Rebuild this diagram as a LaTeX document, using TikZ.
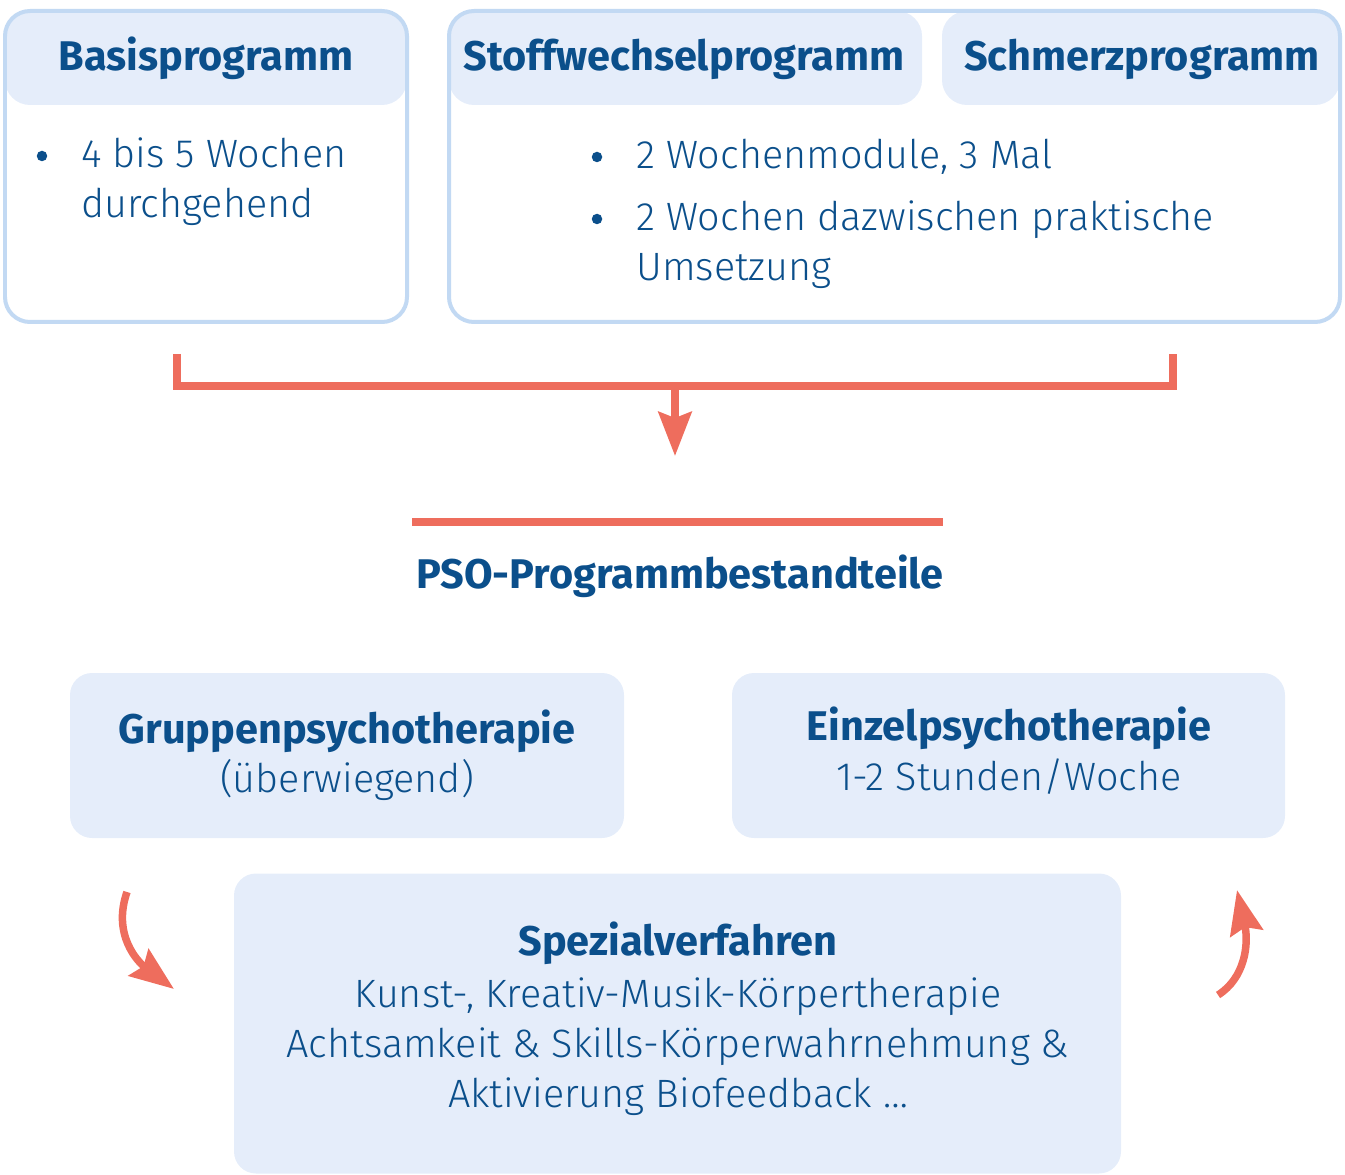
\documentclass[tikz,border=0pt]{standalone}
\usepackage{fontspec}
\setmainfont{Fira Sans}[UprightFont=* Light, BoldFont=* Bold]
\usetikzlibrary{arrows.meta,positioning}

\definecolor{psoBlue}{HTML}{0B4F8B}
\definecolor{psoFill}{HTML}{E5EDFA}
\definecolor{psoFrame}{HTML}{C2D9F3}
\definecolor{psoRed}{HTML}{EE6D5D}

\newcommand{\bodyfont}{\fontsize{22.5}{28}\selectfont}
\newcommand{\headfont}{\fontsize{23.6}{28}\selectfont\bfseries}
\def\px{0.02cm}

\begin{document}
\begin{tikzpicture}[x=0.02cm, y=-0.02cm, text=psoBlue,
    header/.style={fill=psoFill, rounded corners=0.5cm, inner sep=0pt},
    outerbox/.style={draw=psoFrame, line width=0.08cm, rounded corners=0.5cm, inner sep=0pt},
    panel/.style={fill=psoFill, rounded corners=0.44cm, inner sep=0pt},
    headtext/.style={font=\headfont, inner sep=0pt, anchor=base},
    bodytext/.style={font=\bodyfont, inner sep=0pt, anchor=base west},
    linetext/.style={font=\bodyfont, inner sep=0pt, anchor=base},
    bulletdot/.style={circle, fill=psoBlue, minimum size=0.21cm, inner sep=0pt},
    redline/.style={draw=psoRed, line width=0.16cm},
    redarrow/.style={draw=psoRed, line width=0.15cm, -{Stealth[length=0.88cm, width=0.66cm, inset=0.12cm]}}]

    \useasboundingbox (0,0) rectangle (1345,1175);

    % Header fields of the programmes
    \node[header, minimum width=402*\px, minimum height=94*\px] (basisHead) at (206,58) {};
    \node[header, minimum width=473*\px, minimum height=94*\px] (stoffHead) at (685.5,58) {};
    \node[header, minimum width=398*\px, minimum height=94*\px] (schmerzHead) at (1141,58) {};

    % Frames round the programmes
    \node[outerbox, minimum width=402*\px, minimum height=311*\px] (basis) at (206,166.5) {};
    \node[outerbox, minimum width=891*\px, minimum height=311*\px] (kombi) at (894.5,166.5) {};

    % Programme titles
    \node[headtext] (basisTitle) at (206,71) {Basisprogramm};
    \node[headtext] (stoffTitle) at (684,71) {Stoffwechselprogramm};
    \node[headtext] (schmerzTitle) at (1142,71) {Schmerzprogramm};

    % Bullet points
    \foreach \pos [count=\i] in {(42,156), (597,157), (597,219)} {
      \node[bulletdot] (dot\i) at \pos {};
    }
    \node[bodytext] (basisA) at (81,168) {4 bis 5 Wochen};
    \node[bodytext] (basisB) at (81,218) {durchgehend};
    \node[bodytext] (kombiA) at (636,169) {2 Wochenmodule, 3 Mal};
    \node[bodytext] (kombiB) at (636,231) {2 Wochen dazwischen praktische};
    \node[bodytext] (kombiC) at (636,281) {Umsetzung};

    % Bracket joining the programmes
    \coordinate (basisFoot) at (177,354);
    \coordinate (kombiFoot) at (1173,354);
    \coordinate (merge) at (675,386);
    \coordinate (mergeEnd) at (675,456);
    \draw[redline] (basisFoot) |- (merge) -| (kombiFoot);
    \draw[redarrow] (merge) -- (mergeEnd);

    % Rule and title of the components
    \coordinate (ruleL) at (412,522);
    \coordinate (ruleR) at (943,522);
    \draw[redline] (ruleL) -- (ruleR);
    \node[headtext] (pso) at (680,588) {PSO-Programmbestandteile};

    % Component panels
    \node[panel, minimum width=554*\px, minimum height=165*\px] (gruppe) at (347,755.5) {};
    \node[panel, minimum width=553*\px, minimum height=165*\px] (einzel) at (1008.5,755.5) {};
    \node[panel, minimum width=887*\px, minimum height=300*\px] (spezial) at (677.5,1023.5) {};

    \node[headtext] (gruppeTitle) at (347,743) {Gruppenpsychotherapie};
    \node[linetext] (gruppeNote) at (347,792) {(überwiegend)};
    \node[headtext] (einzelTitle) at (1009,740) {Einzelpsychotherapie};
    \node[linetext] (einzelNote) at (1009,790) {1-2 Stunden/Woche};
    \node[headtext] (spezialTitle) at (678,955) {Spezialverfahren};
    \foreach \txt [count=\i] in {{Kunst-, Kreativ-Musik-Körpertherapie}, {Achtsamkeit \& Skills-Körperwahrnehmung \&}, {Aktivierung Biofeedback …}} {
      \node[linetext] (spezial\i) at (678,957+50*\i) {\txt};
    }

    % Curved arrows between the panels
    \coordinate (gruppeOut) at (127,892);
    \coordinate (spezialIn) at (174,989);
    \coordinate (spezialOut) at (1218,995);
    \coordinate (einzelIn) at (1237,890);
    \draw[redarrow] (gruppeOut) .. controls (112,935) and (138,962) .. (spezialIn);
    \draw[redarrow] (spezialOut) .. controls (1245,978) and (1249,944) .. (einzelIn);

\end{tikzpicture}
\end{document}
